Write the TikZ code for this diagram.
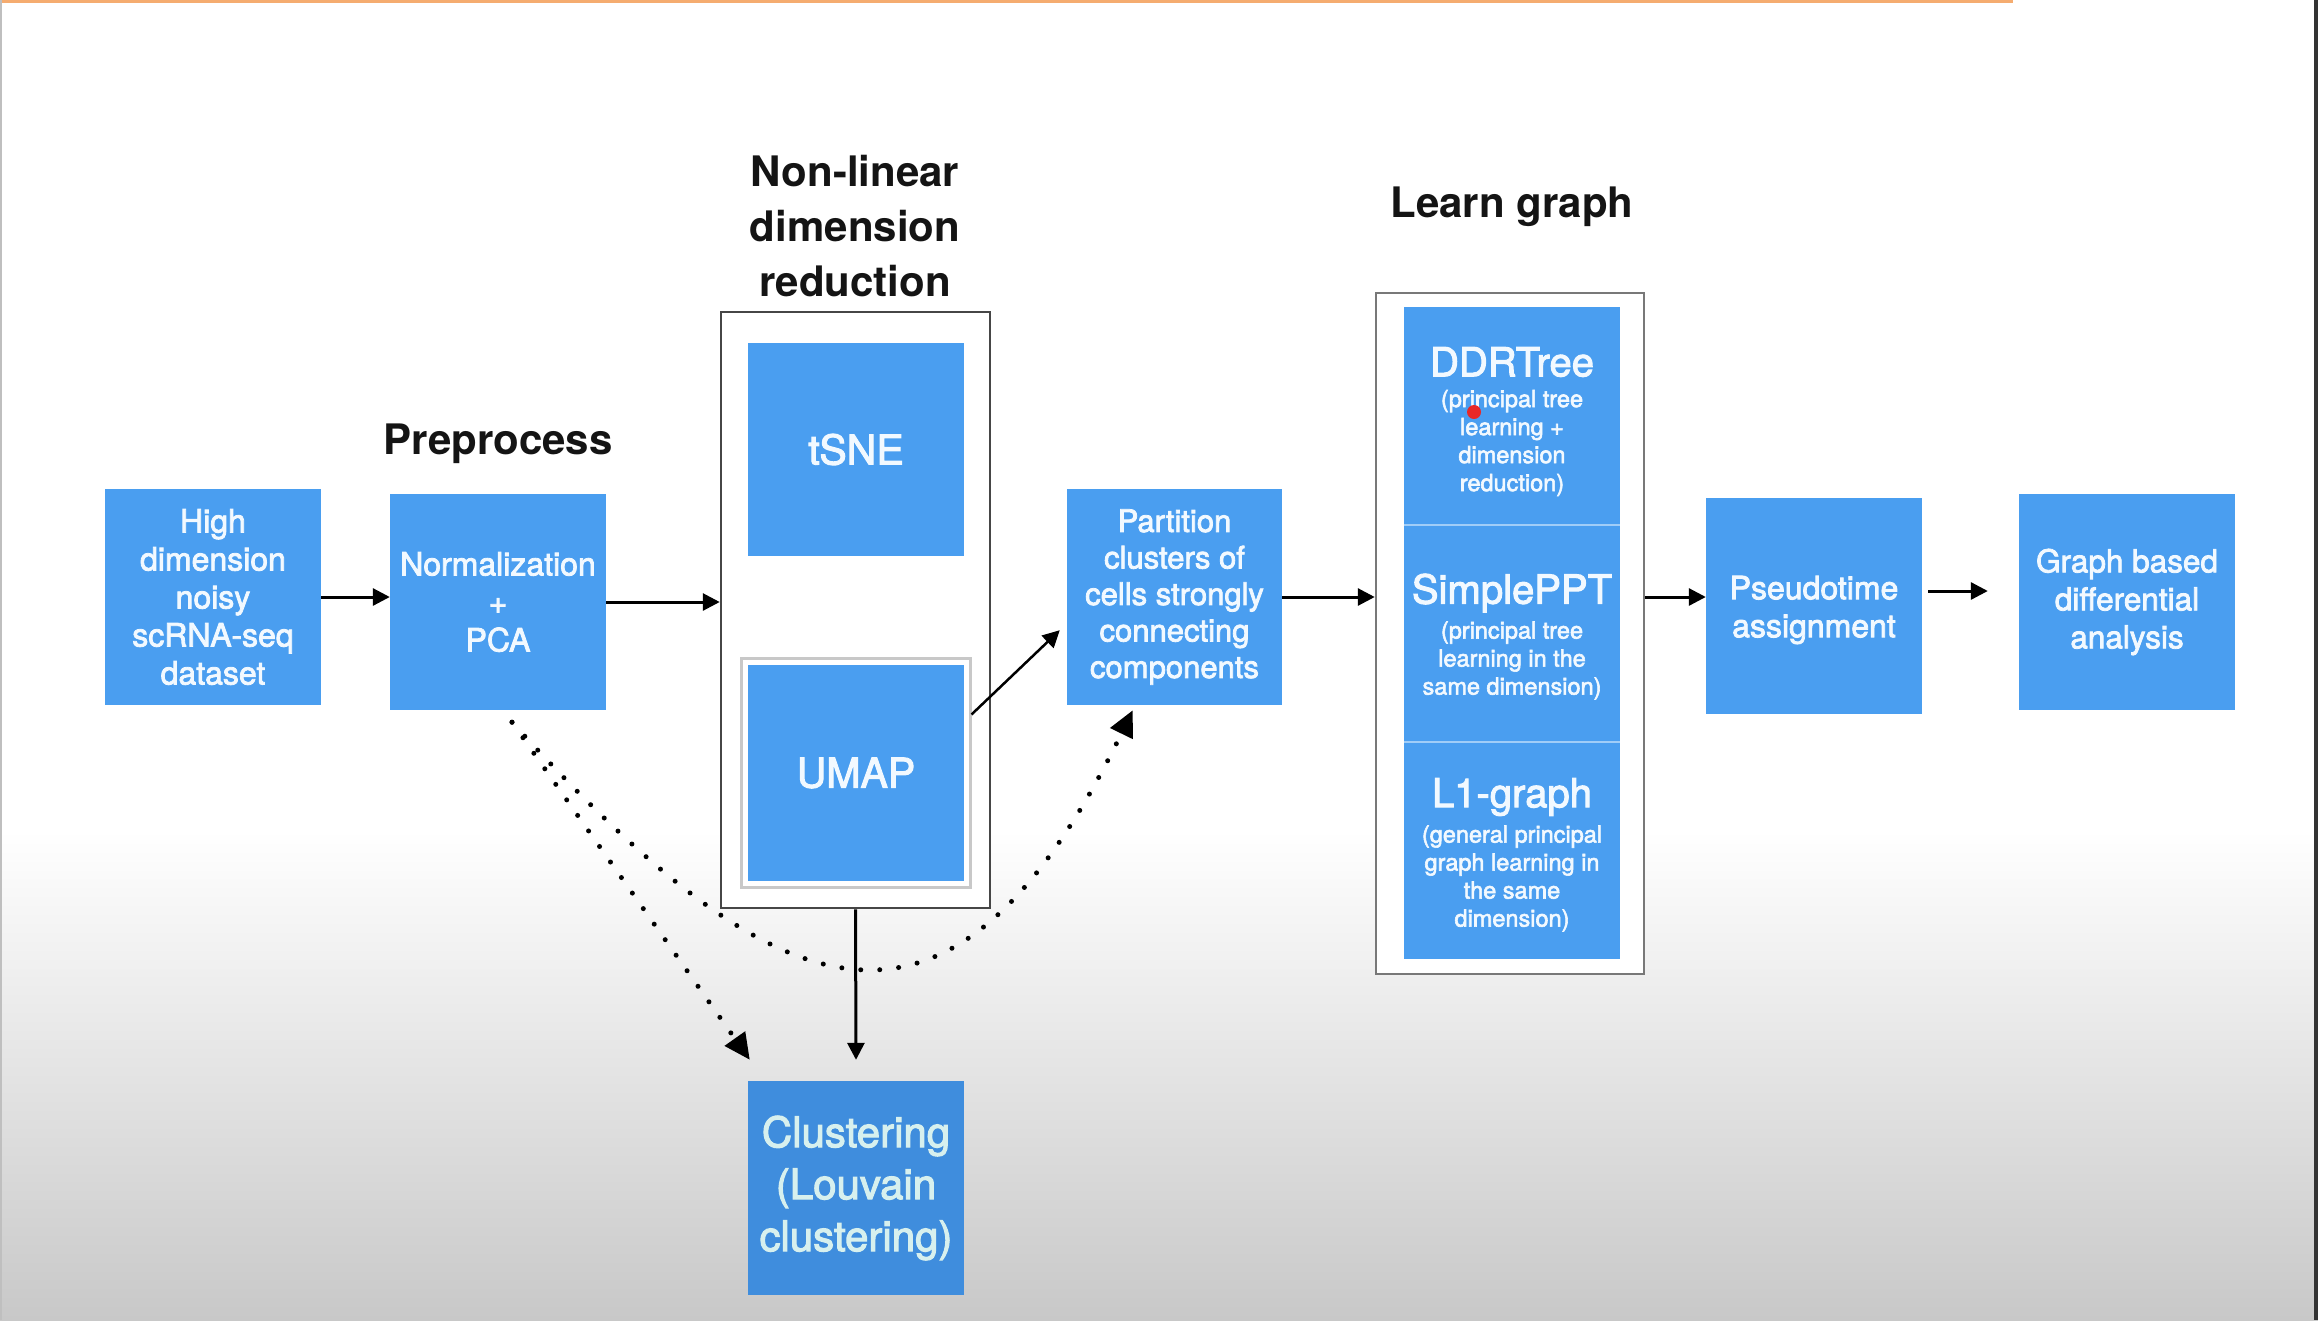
\documentclass[tikz,border=0pt]{standalone}
\usepackage{fontspec}
\setmainfont{TeX Gyre Heros}
\newfontfamily\boxfont{TeX Gyre Heros}[FakeBold=2.5]
\usetikzlibrary{arrows.meta,calc}
\definecolor{boxblue}{RGB}{74,158,240}
\definecolor{clublue}{RGB}{63,141,221}
\definecolor{boxtext}{RGB}{242,249,255}
\definecolor{clutext}{RGB}{215,240,238}
\definecolor{divline}{RGB}{160,205,248}
\definecolor{frameline}{RGB}{70,70,70}
\definecolor{lframe}{RGB}{120,120,120}
\definecolor{umapframe}{RGB}{200,200,200}
\definecolor{topline}{RGB}{245,172,112}
\definecolor{bggray}{RGB}{200,200,200}
\definecolor{pointer}{RGB}{232,40,40}
\begin{document}
\begin{tikzpicture}[x=1pt,y=-1pt,
  bbox/.style={fill=boxblue, draw=none, inner sep=0pt, minimum width=216pt, minimum height=216pt,
     text=boxtext, align=center, font=\boxfont\fontsize{32}{38}\selectfont},
  frame/.style={draw=frameline, line width=2.5pt, fill=white, inner sep=0pt},
  title/.style={align=center, text=black!92, font=\fontsize{42}{55}\selectfont\bfseries},
  lgname/.style={text=boxtext, font=\boxfont\fontsize{40}{44}\selectfont, inner sep=0pt},
  lgsub/.style={text=boxtext, align=center, font=\boxfont\fontsize{23.5}{28}\selectfont, inner sep=0pt},
  arr/.style={draw=black, line width=3pt, -{Triangle[length=17pt,width=17pt]}},
  dotarr/.style={draw=black, line width=5pt, dash pattern=on 0pt off 19pt, line cap=round,
     -{Triangle[length=26pt,width=24pt]}}
]
\useasboundingbox (0,0) rectangle (2318,1320);
% background
\fill[white] (0,0) rectangle (2318,1320);
\shade[top color=white, bottom color=bggray] (0,830) rectangle (2318,1320);
\fill[topline] (0,0) rectangle (2013,3);
\fill[black!25] (0,0) rectangle (2,1320);
\fill[black!80] (2314,0) rectangle (2318,1320);

% titles
\node[title] (tpre) at (498,444) {Preprocess};
\node[title] (tnl) at (855,226) {Non-linear\\dimension\\reduction};
\node[title] (tlg) at (1512,207) {Learn graph};

% boxes
\node[bbox] (hd) at (213,597) {High\\dimension\\noisy\\scRNA-seq\\dataset};
\node[bbox] (pca) at (498,602) {Normalization\\+\\PCA};

\node[frame, minimum width=269pt, minimum height=596pt] (nldr) at (855.5,610) {};
\node[bbox, minimum height=213pt, font=\boxfont\fontsize{41}{48}\selectfont] (tsne) at (856,449.5) {tSNE};
\node[draw=umapframe, line width=3pt, fill=white, inner sep=0pt, minimum width=229pt, minimum height=229pt] (umapb) at (855.5,772.5) {};
\node[bbox, font=\boxfont\fontsize{41}{48}\selectfont] (umap) at (856,773) {UMAP};

\node[bbox, fill=clublue, text=clutext, minimum height=214pt, font=\boxfont\fontsize{42}{52}\selectfont] (clu) at (856,1188) {Clustering\\(Louvain\\clustering)};

\node[bbox, minimum width=215pt, font=\boxfont\fontsize{31}{36.5}\selectfont] (part) at (1174.5,597) {Partition\\clusters of\\cells strongly\\connecting\\components};

\node[draw=lframe, line width=2.5pt, fill=white, inner sep=0pt, minimum width=268pt, minimum height=681pt] (learn) at (1510,633.5) {};
\node[fill=boxblue, inner sep=0pt, minimum width=216pt, minimum height=218pt] (ddr) at (1512,416) {};
\node[fill=boxblue, inner sep=0pt, minimum width=216pt, minimum height=217pt] (sppt) at (1512,633.5) {};
\node[fill=boxblue, inner sep=0pt, minimum width=216pt, minimum height=217pt] (lone) at (1512,850.5) {};
\draw[divline, line width=2pt] (ddr.south west) -- (ddr.south east);
\draw[divline, line width=2pt] (sppt.south west) -- (sppt.south east);

\node[lgname] (ddrt) at (1512,362) {DDRTree};
\node[lgsub] (ddrs) at (1512,443) {(principal tree\\learning +\\dimension\\reduction)};
\node[lgname] (spt) at (1512,593) {SimplePPT};
\node[lgsub] (sps) at (1512,660.5) {(principal tree\\learning in the\\same dimension)};
\node[lgname] (l1t) at (1512,797) {L1-graph};
\node[lgsub] (l1s) at (1512,878.5) {(general principal\\graph learning in\\the same\\dimension)};
\fill[pointer] (1474,412) circle (7);

\node[bbox] (pseudo) at (1814,606) {};
\node[text=boxtext, align=center, font=\boxfont\fontsize{32}{38}\selectfont] (pseudot) at (1814,610) {Pseudotime\\assignment};
\node[bbox, font=\boxfont\fontsize{31.5}{38}\selectfont] (graph) at (2127,602) {Graph based\\differential\\analysis};

% connectors
\draw[arr] (hd.east) -- (hd.east -| pca.west);
\draw[arr] (pca.east) -- (pca.east -| nldr.west);
\coordinate (ustart) at ($(umapb.north east)!0.25!(umapb.south east)$);
\coordinate (ptip) at ($(part.south west)+(-7,-75)$);
\draw[arr, line width=2.5pt] (ustart) -- (ptip);
\coordinate (ctip) at ($(clu.north)+(0,-21)$);
\draw[arr] (nldr.south) -- (ctip);
\draw[arr] (part.east) -- (part.east -| learn.west);
\coordinate (pin) at ($(pseudo.west)+(0,-9)$);
\draw[arr] (learn.east |- pin) -- (pin);
\coordinate (pout) at ($(pseudo.east)+(6,-15)$);
\coordinate (gin) at ($(graph.west)+(-31,-11)$);
\draw[arr] (pout) -- (gin);

\coordinate (dstart) at ($(pca.south)+(14,12)$);
\coordinate (dclu) at ($(clu.north west)+(2,-21)$);
\coordinate (dpart) at ($(part.south west)+(66,5)$);
\draw[dotarr] (dstart) -- (dclu);
\draw[dotarr] (dstart) .. controls (771.5,1007.5) and (947,1091) .. (dpart);
\end{tikzpicture}
\end{document}
